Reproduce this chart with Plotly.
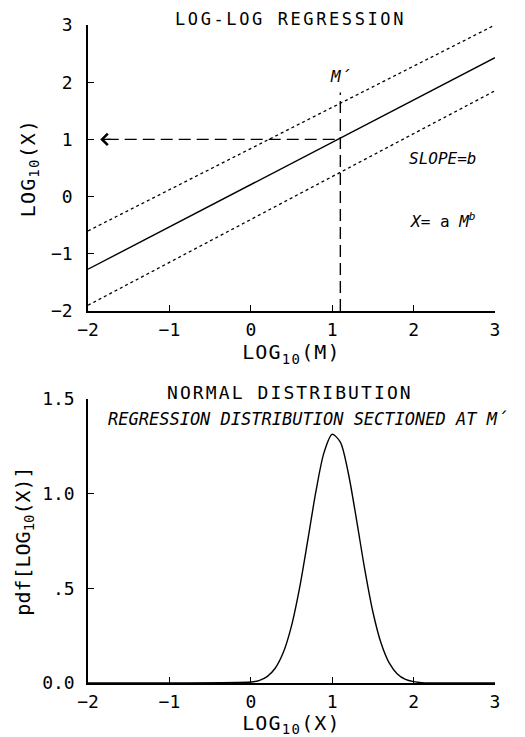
import plotly.graph_objects as go

# ---- data: top panel (log-log regression) ----
reg_x = [-2.0, 3.0]
reg_y = [-1.27, 2.43]
upper_y = [-0.60, 3.00]
lower_y = [-1.90, 1.85]
m_prime = 1.1
x_prime = 1.0
m_label_y = 2.1
vline_top = 1.82
arrow_tip_x = -1.85

# ---- data: bottom panel (normal distribution at M') ----
pdf_x = [-2.0, -1.0, 0.0, 0.1, 0.2, 0.3, 0.4, 0.5, 0.6, 0.7, 0.8, 0.9, 1.0,
         1.1, 1.2, 1.3, 1.4, 1.5, 1.6, 1.7, 1.8, 1.9, 2.0, 2.1, 2.5, 3.0]
pdf_y = [0.0, 0.0, 0.005, 0.013, 0.034, 0.078, 0.162, 0.302, 0.504, 0.754,
         1.012, 1.218, 1.314, 1.272, 1.104, 0.859, 0.600, 0.375, 0.211,
         0.106, 0.048, 0.019, 0.007, 0.002, 0.0, 0.0]

x_ticks = [-2, -1, 0, 1, 2, 3]
top_y_ticks = [-2, -1, 0, 1, 2, 3]
bot_y_ticks = [0.0, 0.5, 1.0, 1.5]
bot_y_labels = ["0.0", ".5", "1.0", "1.5"]

FONT = "DejaVu Sans Mono"
OFF = 8  # page body margin
W, H = 525 - OFF, 737 - OFF


def px(p):
    return (p - OFF) / W


def py(p):
    return 1 - (p - OFF) / H


def spaced(t, s=2.1):
    return '<span style="letter-spacing:%spx">%s</span>' % (s, t)


fig = go.Figure()

line_k = dict(color="black", width=1.4)

fig.add_trace(go.Scatter(x=reg_x, y=reg_y, mode="lines", line=line_k,
                         xaxis="x", yaxis="y", showlegend=False))
fig.add_trace(go.Scatter(x=reg_x, y=upper_y, mode="lines",
                         line=dict(color="black", width=1.3, dash="dot"),
                         xaxis="x", yaxis="y", showlegend=False))
fig.add_trace(go.Scatter(x=reg_x, y=lower_y, mode="lines",
                         line=dict(color="black", width=1.3, dash="dot"),
                         xaxis="x", yaxis="y", showlegend=False))
fig.add_trace(go.Scatter(x=[m_prime, m_prime], y=[-2, vline_top], mode="lines",
                         line=dict(color="black", width=1.4, dash="12px,6px"),
                         xaxis="x", yaxis="y", showlegend=False))
fig.add_trace(go.Scatter(x=[arrow_tip_x + 0.08, m_prime], y=[x_prime, x_prime], mode="lines",
                         line=dict(color="black", width=1.4, dash="12px,6px"),
                         xaxis="x", yaxis="y", showlegend=False))

fig.add_trace(go.Scatter(x=pdf_x, y=pdf_y, mode="lines",
                         line=dict(color="black", width=1.4, shape="spline", smoothing=0.8),
                         xaxis="x2", yaxis="y2", showlegend=False))

xdom = [px(88), px(495)]
axis_common = dict(showline=True, linecolor="black", linewidth=1.5, ticks="inside",
                   ticklen=6, tickcolor="black", tickwidth=1.2, showgrid=False,
                   zeroline=False, mirror=False, automargin=False,
                   tickfont=dict(family=FONT, size=18, color="black"))
tfont = dict(family=FONT, size=20)

fig.update_layout(
    width=W, height=H, margin=dict(l=0, r=0, t=0, b=0, autoexpand=False),
    paper_bgcolor="white", plot_bgcolor="white",
    font=dict(family=FONT, color="black"),
    xaxis=dict(domain=xdom, range=[-2, 3], tickvals=x_ticks, anchor="y",
               title=dict(text=spaced("LOG<sub>10</sub>(M)", 1.2), font=tfont, standoff=2),
               ticklabelstandoff=2, **axis_common),
    yaxis=dict(domain=[py(311), py(25)], range=[-2, 3], tickvals=top_y_ticks, anchor="x",
               title=dict(text=spaced("LOG<sub>10</sub>(X)", 1.2), font=tfont, standoff=10),
               ticklabelstandoff=10, **axis_common),
    xaxis2=dict(domain=xdom, range=[-2, 3], tickvals=x_ticks, anchor="y2",
                title=dict(text=spaced("LOG<sub>10</sub>(X)", 1.2), font=tfont, standoff=2),
                ticklabelstandoff=2, **axis_common),
    yaxis2=dict(domain=[py(683), py(399)], range=[0, 1.5], tickvals=bot_y_ticks,
                ticktext=bot_y_labels, anchor="x2",
                title=dict(text="pdf[LOG<sub>10</sub>(X)]", font=tfont, standoff=6),
                ticklabelstandoff=8, **axis_common),
)

ann = []
ann.append(dict(text=spaced("LOG-LOG REGRESSION", 2.6), x=px(290), y=1, xref="paper", yref="paper",
                yanchor="top", showarrow=False, borderpad=0, font=dict(family=FONT, size=17)))
ann.append(dict(text=spaced("NORMAL DISTRIBUTION"), x=px(290), y=py(392), xref="paper", yref="paper",
                yanchor="middle", showarrow=False, font=dict(family=FONT, size=18)))
ann.append(dict(text="<i>REGRESSION DISTRIBUTION SECTIONED AT M´</i>", x=px(307), y=py(419),
                xref="paper", yref="paper", yanchor="middle", showarrow=False, font=dict(family=FONT, size=17)))
ann.append(dict(text="<i>M´</i>", x=m_prime, y=m_label_y, xref="x", yref="y", showarrow=False,
                font=dict(family=FONT, size=16)))
ann.append(dict(text="<i>SLOPE=b</i>", x=2.36, y=0.67, xref="x", yref="y", showarrow=False,
                font=dict(family=FONT, size=16)))
ann.append(dict(text="<i>X=</i> a <i>M<sup>b</sup></i>", x=2.36, y=-0.42, xref="x", yref="y", showarrow=False,
                font=dict(family=FONT, size=16)))
ann.append(dict(text="", x=arrow_tip_x, y=x_prime, ax=arrow_tip_x + 0.15, ay=x_prime,
                xref="x", yref="y", axref="x", ayref="y", showarrow=True,
                arrowhead=4, arrowsize=1.6, arrowwidth=1.4, arrowcolor="black"))
fig.update_layout(annotations=ann)

fig.write_html("out.html")
